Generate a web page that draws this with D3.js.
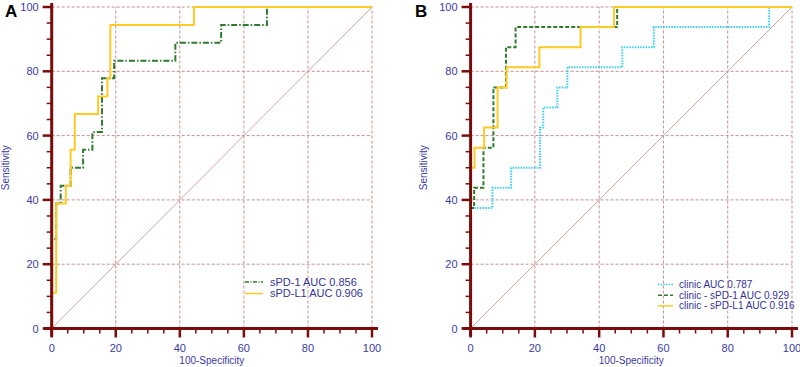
<!DOCTYPE html>
<html>
<head>
<meta charset="utf-8">
<script src="https://cdn.jsdelivr.net/npm/d3@7"></script>
<style>
  html, body { margin: 0; padding: 0; background: #fff; }
  svg { display: block; font-family: "Liberation Sans", Arial, sans-serif; }
</style>
</head>
<body>
<svg id="chart" width="800" height="367"></svg>
<script>
// ---- Data (ROC operating points: FPR = 100-Specificity, TPR = Sensitivity) ----
const ticksMajor = [0, 20, 40, 60, 80, 100];
const ticksMinor = d3.range(0, 101, 5);

// Panel A
const aPD1_fpr = [0, 0, 1.4, 2.8, 5.9, 9.8, 12.7, 15.7, 19.5, 38.6, 52.9, 67.2, 100];
const aPD1_tpr = [0, 27.8, 38.9, 44.4, 50, 55.6, 61.1, 77.8, 83.3, 88.9, 94.4, 100, 100];
const aPDL1_fpr = [0, 0, 1.4, 4.4, 5.9, 7.2, 14.5, 17.4, 18.3, 44.4, 100];
const aPDL1_tpr = [0, 11.1, 38.9, 44.4, 55.6, 66.7, 72.2, 77.8, 94.4, 100, 100];

// Panel B
const bClinic_fpr = [0, 0, 6.8, 12.6, 21.6, 22.6, 27.0, 30.1, 47.2, 57.0, 92.9, 100];
const bClinic_tpr = [0, 37.5, 43.75, 50, 62.5, 68.75, 75, 81.25, 87.5, 93.75, 100, 100];
const bPD1_fpr = [0, 0, 1.1, 4.0, 7.1, 11.0, 14.0, 45.6, 100];
const bPD1_tpr = [0, 37.5, 43.75, 56.25, 75, 87.5, 93.75, 100, 100];
const bPDL1_fpr = [0, 0, 1.2, 4.2, 8.4, 11.2, 21.4, 34.2, 44.6, 100];
const bPDL1_tpr = [0, 50, 56.25, 62.5, 75, 81.25, 87.5, 93.75, 100, 100];

const legendA = ["sPD-1 AUC 0.856", "sPD-L1 AUC 0.906"];
const legendB = ["clinic AUC 0.787", "clinic - sPD-1 AUC 0.929", "clinic - sPD-L1 AUC 0.916"];

// ---- Styles ----
const AXIS = "#7a0c0c";
const LABEL = "#3a3aa6";
const GRID = "#c58e8e";
const DIAG = "#d4a3a3";
const YELLOW = "#ffc926";
const GREEN = "#2f7a2f";
const CYAN = "#3fd0f0";

const svg = d3.select("#chart");

function zip(xs, ys) { return xs.map((x, i) => [x, ys[i]]); }

function panel(opt) {
  const x = d3.scaleLinear().domain([0, 100]).range([opt.x0, opt.x1]);
  const y = d3.scaleLinear().domain([0, 100]).range([opt.y0, opt.y1]);
  const g = svg.append("g");

  // grid
  const gg = g.append("g").attr("stroke", GRID).attr("stroke-width", 1).attr("stroke-dasharray", "3,2");
  ticksMajor.filter(d => d > 0).forEach(d => {
    gg.append("line").attr("x1", x(d)).attr("x2", x(d)).attr("y1", y(0)).attr("y2", y(100));
    gg.append("line").attr("x1", x(0)).attr("x2", x(100)).attr("y1", y(d)).attr("y2", y(d));
  });
  // diagonal
  g.append("line").attr("x1", x(0)).attr("y1", y(0)).attr("x2", x(100)).attr("y2", y(100))
    .attr("stroke", DIAG).attr("stroke-width", 1);

  // curves
  const line = d3.line().x(d => x(d[0])).y(d => y(d[1])).curve(d3.curveStepAfter);
  opt.series.forEach(s => {
    g.append("path").attr("d", line(zip(s.fpr, s.tpr)))
      .attr("fill", "none").attr("stroke", s.color).attr("stroke-width", 2)
      .attr("stroke-dasharray", s.dash || null);
  });

  // axes lines
  g.append("line").attr("x1", x(0)).attr("x2", x(0)).attr("y1", y(100) - 4).attr("y2", y(0) + 8)
    .attr("stroke", AXIS).attr("stroke-width", 3);
  g.append("line").attr("x1", x(0) - 8).attr("x2", x(100) + 6).attr("y1", y(0)).attr("y2", y(0))
    .attr("stroke", AXIS).attr("stroke-width", 3);

  // ticks
  ticksMinor.forEach(d => {
    const major = d % 20 === 0;
    const len = major ? 9 : 5;
    g.append("line").attr("x1", x(0) - len).attr("x2", x(0)).attr("y1", y(d)).attr("y2", y(d))
      .attr("stroke", AXIS).attr("stroke-width", major ? 2.5 : 1.5);
    g.append("line").attr("x1", x(d)).attr("x2", x(d)).attr("y1", y(0)).attr("y2", y(0) + len)
      .attr("stroke", AXIS).attr("stroke-width", major ? 2.5 : 1.5);
  });

  // tick labels
  ticksMajor.forEach(d => {
    g.append("text").attr("x", x(0) - 13).attr("y", y(d) + 4).attr("text-anchor", "end")
      .attr("font-size", 11).attr("fill", LABEL).text(d);
    g.append("text").attr("x", x(d)).attr("y", y(0) + 23).attr("text-anchor", "middle")
      .attr("font-size", 11).attr("fill", LABEL).text(d);
  });

  // axis titles
  g.append("text").attr("x", (x(0) + x(100)) / 2).attr("y", 364).attr("text-anchor", "middle")
    .attr("font-size", 10).attr("fill", LABEL).text("100-Specificity");
  g.append("text").attr("transform", `translate(${opt.ytitleX},${(y(0) + y(100)) / 2}) rotate(-90)`)
    .attr("text-anchor", "middle").attr("font-size", 10).attr("fill", LABEL).text("Sensitivity");

  // panel letter
  g.append("text").attr("x", opt.letterX).attr("y", 17).attr("font-size", 17).attr("font-weight", "bold")
    .attr("fill", "#000").text(opt.letter);

  // legend
  const lg = g.append("g");
  opt.series.forEach((s, i) => {
    const yy = opt.legY + i * opt.legStep;
    lg.append("line").attr("x1", opt.legX).attr("x2", opt.legX + opt.legLen).attr("y1", yy).attr("y2", yy)
      .attr("stroke", s.color).attr("stroke-width", 1.5).attr("stroke-dasharray", s.legDash || null);
    lg.append("text").attr("x", opt.legX + opt.legLen + opt.legGap).attr("y", yy + 3.5)
      .attr("font-size", opt.legFont).attr("fill", "#333399").text(s.label);
  });
}

panel({
  x0: 51.7, x1: 372, y0: 328.5, y1: 7, letter: "A", letterX: 5, ytitleX: 9,
  legX: 245, legLen: 18, legGap: 7, legY: 282, legStep: 11.5, legFont: 11,
  series: [
    { fpr: aPD1_fpr, tpr: aPD1_tpr, color: GREEN, dash: "6,2,1.5,2", legDash: "4,1.5,1,1.5", label: legendA[0] },
    { fpr: aPDL1_fpr, tpr: aPDL1_tpr, color: YELLOW, label: legendA[1] }
  ]
});

panel({
  x0: 470.6, x1: 792, y0: 328.5, y1: 7, letter: "B", letterX: 415, ytitleX: 427,
  legX: 658, legLen: 15, legGap: 6, legY: 284.5, legStep: 10.7, legFont: 10,
  series: [
    { fpr: bClinic_fpr, tpr: bClinic_tpr, color: CYAN, dash: "1.5,1.2", legDash: "1.5,1.2", label: legendB[0] },
    { fpr: bPD1_fpr, tpr: bPD1_tpr, color: GREEN, dash: "4,2", legDash: "4,2", label: legendB[1] },
    { fpr: bPDL1_fpr, tpr: bPDL1_tpr, color: YELLOW, label: legendB[2] }
  ]
});
</script>
</body>
</html>
